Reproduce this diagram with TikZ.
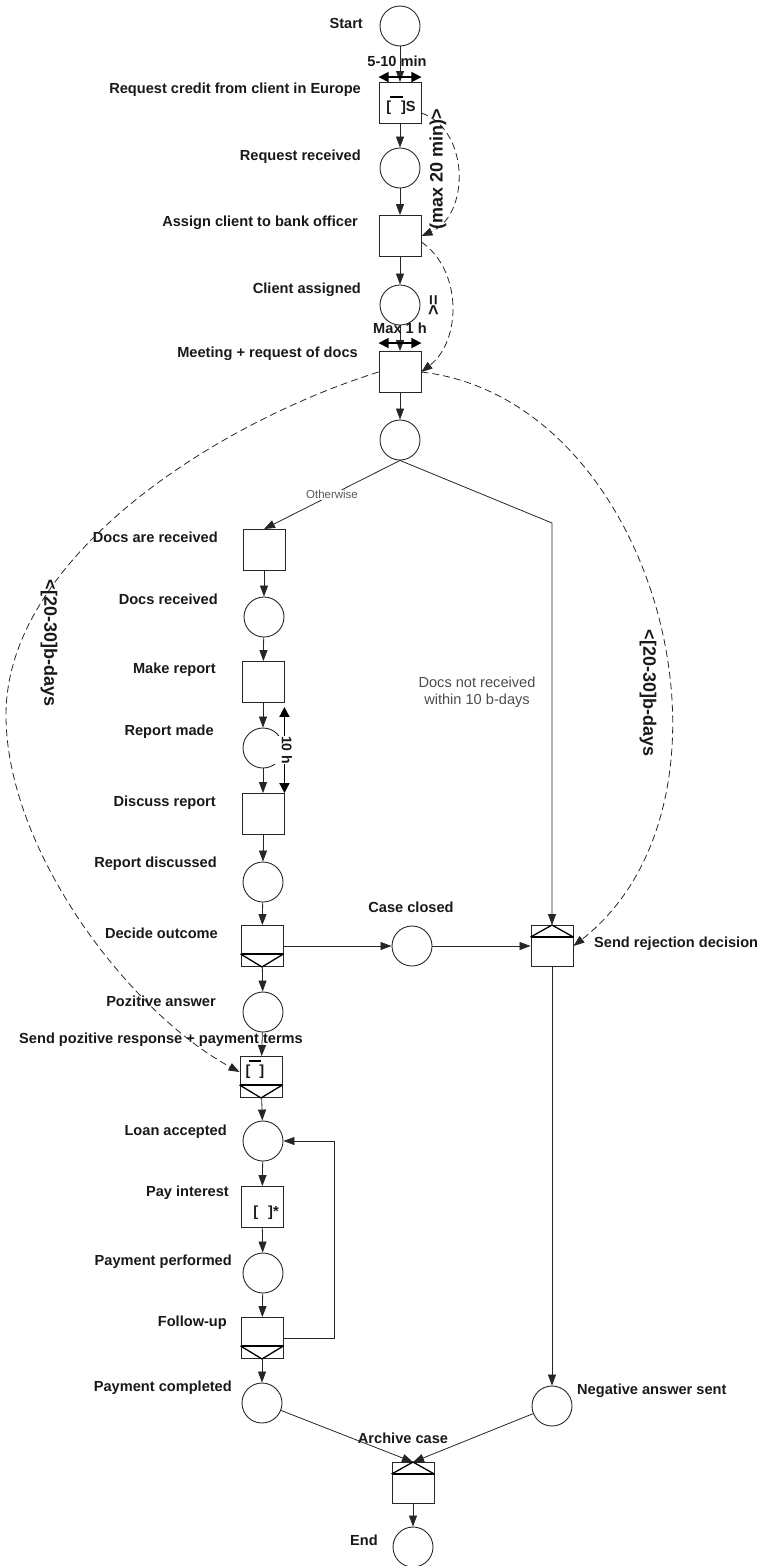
\documentclass[tikz,border=0pt]{standalone}
\usepackage{fontspec}
\setmainfont{Liberation Sans}
\usetikzlibrary{arrows.meta,calc}
\newcommand\xsplit[1]{%
  \draw[vline] ([yshift=13pt]#1.south west) -- (#1.south) -- ([yshift=13pt]#1.south east);
  \draw[splitbar] ([yshift=13pt]#1.south west) -- ([yshift=13pt]#1.south east);}
\newcommand\xjoin[1]{%
  \draw[vline] ([yshift=-12pt]#1.north west) -- (#1.north) -- ([yshift=-12pt]#1.north east);
  \draw[splitbar] ([yshift=-12pt]#1.north west) -- ([yshift=-12pt]#1.north east);}
\begin{document}
\begin{tikzpicture}[x=1pt,y=-1pt,
  place/.style={circle,draw=black!85,line width=0.9pt,minimum size=40pt,inner sep=0pt},
  task/.style={rectangle,draw=black!85,line width=0.9pt,minimum width=42pt,minimum height=41pt,inner sep=0pt},
  lbl/.style={font=\fontsize{14.6}{17}\selectfont\bfseries,inner sep=0pt,text=black!90},
  lblL/.style={lbl,anchor=east},
  lblR/.style={lbl,anchor=west},
  arr/.style={draw=black!85,line width=0.8pt,-{Triangle[length=11pt,width=8pt]}},
  dsh/.style={draw=black!85,line width=0.8pt,dash pattern=on 7pt off 4pt,-{Triangle[length=11pt,width=8pt]}},
  tbar/.style={draw=black,line width=1.6pt,{Triangle[length=10pt,width=10pt]}-{Triangle[length=10pt,width=10pt]}},
  rot/.style={font=\fontsize{18}{20}\selectfont\bfseries,inner sep=0pt,text=black!90},
  note/.style={font=\fontsize{14.6}{17}\selectfont,text=black!70,align=center,inner sep=0pt},
  splitbar/.style={draw=black,line width=2pt},
  vline/.style={draw=black,line width=1.3pt}]
\useasboundingbox (0,0) rectangle (763,1566);

% ---- main column (top)
\node[place] (start)    at (400,26)  {};
\node[task]  (req)      at (400,103) {};
\node[place] (recv)     at (400,168) {};
\node[task]  (assign)   at (400,236) {};
\node[place] (assigned) at (400,305) {};
\node[task]  (meet)     at (400,372) {};
\node[place] (p6)       at (400,440) {};

% ---- left column
\node[task]  (docsrect) at (264,550)  {};
\node[place] (docsrec)  at (264,617)  {};
\node[task]  (mkrep)    at (263,682)  {};
\node[place] (repmade)  at (263,748)  {};
\node[task]  (disc)     at (263,814)  {};
\node[place] (repdisc)  at (263,882)  {};
\node[task]  (decide)   at (262,946)  {};
\node[place] (poz)      at (263,1012) {};
\node[task]  (sendpoz)  at (261,1077) {};
\node[place] (loan)     at (263,1141) {};
\node[task]  (pay)      at (262,1207) {};
\node[place] (payperf)  at (263,1273) {};
\node[task]  (follow)   at (262,1338) {};
\node[place] (paycomp)  at (262,1403) {};

% ---- right side / bottom
\node[place] (closed)   at (412,946)  {};
\node[task]  (reject)   at (552,946)  {};
\node[place] (negsent)  at (552,1406) {};
\node[task]  (archive)  at (413,1483) {};
\node[place] (end)      at (413,1547) {};

\xsplit{decide}
\xsplit{sendpoz}
\xsplit{follow}
\xjoin{reject}
\xjoin{archive}

% ---- markers inside tasks
\node[lbl] (reqmk) at (401,108) {[\hspace{10pt}]S};
\draw[line width=1.3pt] (390,97) -- (403,97);
\node[lbl] (pozmk) at (255,1072) {[\hspace{9pt}]};
\draw[line width=1.3pt] (249,1061) -- (261,1061);
\node[lbl] (paymk) at (266,1213) {[\hspace{10pt}]*};

% ---- labels
\node[lblL] (l1)  at (363,23)   {Start};
\node[lblL] (l2)  at (361,90)   {Request credit from client in Europe};
\node[lblL] (l3)  at (361,157)  {Request received};
\node[lblL] (l4)  at (358,223)  {Assign client to bank officer};
\node[lblL] (l5)  at (361,290)  {Client assigned};
\node[lblL] (l6)  at (358,354)  {Meeting + request of docs};
\node[lblL] (l7)  at (218,537)  {Docs are received};
\node[lblL] (l8)  at (218,599)  {Docs received};
\node[lblL] (l9)  at (216,670)  {Make report};
\node[lblL] (l10) at (214,732)  {Report made};
\node[lblL] (l11) at (216,803)  {Discuss report};
\node[lblL] (l12) at (217,864)  {Report discussed};
\node[lblL] (l13) at (218,933)  {Decide outcome};
\node[lblL] (l14) at (216,1001) {Pozitive answer};
\node[lblL] (l15) at (303,1040) {Send pozitive response + payment terms};
\node[lblL] (l16) at (227,1132) {Loan accepted};
\node[lblL] (l17) at (229,1193) {Pay interest};
\node[lblL] (l18) at (232,1262) {Payment performed};
\node[lblL] (l19) at (227,1323) {Follow-up};
\node[lblL] (l20) at (232,1388) {Payment completed};
\node[lbl]  (l21) at (411,907)  {Case closed};
\node[lblR] (l22) at (594,944)  {Send rejection decision};
\node[lblR] (l23) at (577,1391) {Negative answer sent};
\node[lbl]  (l24) at (403,1438) {Archive case};
\node[lblL] (l25) at (378,1540) {End};
\node[note] (nt)  at (477,692)  {Docs not received\\within 10 b-days};

% ---- solid connectors
\draw[arr] (start) -- (req);
\draw[arr] (req) -- (recv);
\draw[arr] (recv) -- (assign);
\draw[arr] (assign) -- (assigned);
\draw[arr] (assigned) -- (meet);
\draw[arr] (meet) -- (p6);
\draw[arr] (p6.south) -- node[pos=0.5,fill=white,inner sep=1pt,font=\fontsize{11.5}{13}\selectfont,text=black!65] {Otherwise} (docsrect.north);
\coordinate (rk) at (552,523);
\draw[arr] (p6.south) -- (rk) -- (reject.north);
\draw[arr] (docsrect) -- (docsrec);
\draw[arr] (docsrec) -- (mkrep);
\draw[arr] (mkrep) -- (repmade);
\draw[arr] (repmade) -- (disc);
\draw[arr] (disc) -- (repdisc);
\draw[arr] (repdisc) -- (decide);
\draw[arr] (decide) -- (poz);
\draw[arr] (poz) -- (sendpoz);
\draw[arr] (sendpoz) -- (loan);
\draw[arr] (loan) -- (pay);
\draw[arr] (pay) -- (payperf);
\draw[arr] (payperf) -- (follow);
\draw[arr] (follow) -- (paycomp);
\coordinate (fbx) at (334,0);
\draw[arr] (follow.east) -- (follow.east -| fbx) |- (loan.east);
\draw[arr] (decide.east) -- (closed.west);
\draw[arr] (closed.east) -- (reject.west);
\draw[arr] (reject.south) -- (negsent.north);
\draw[arr] (paycomp) -- (archive.north);
\draw[arr] (negsent) -- (archive.north);
\draw[arr] (archive.south) -- (end.north);

% ---- time bars
\draw[tbar] ([yshift=5pt]req.north west) -- ([yshift=5pt]req.north east);
\node[lbl] (t1) at (397,61) {5-10 min};
\draw[tbar] ([yshift=8pt]meet.north west) -- ([yshift=8pt]meet.north east);
\node[lbl] (t2) at (400,328) {Max 1 h};
\draw[tbar] ([yshift=-4pt]mkrep.south east) -- (disc.north east);
\node[lbl,rotate=-90,fill=white,inner sep=0pt,minimum height=26pt,font=\fontsize{14}{16}\selectfont\bfseries] (t3) at (287,750) {10 h};

% ---- dashed constraints
\draw[dsh] ([yshift=-10pt]req.east) .. controls (470,130) and (470,215) .. (assign.east);
\node[rot,rotate=90] (c1) at (438,169) {(max 20 min)>};
\draw[dsh] ([yshift=-6pt]assign.east) .. controls (462,270) and (462,340) .. (meet.east);
\node[rot,rotate=90] (c2) at (434,305) {>=};
\draw[dsh] (meet.east) .. controls (660,400) and (760,800) .. (reject.east);
\node[rot,rotate=-90] (c3) at (648,693) {<[20-30]b-days};
\coordinate (lmid) at (6,715);
\draw[dsh] (meet.west) .. controls (210,425) and (6,560) .. (lmid) .. controls (6,850) and (129,1012) .. ([yshift=5pt]sendpoz.west);
\node[rot,rotate=-90] (c4) at (49,643) {<[20-30]b-days};
\end{tikzpicture}
\end{document}
